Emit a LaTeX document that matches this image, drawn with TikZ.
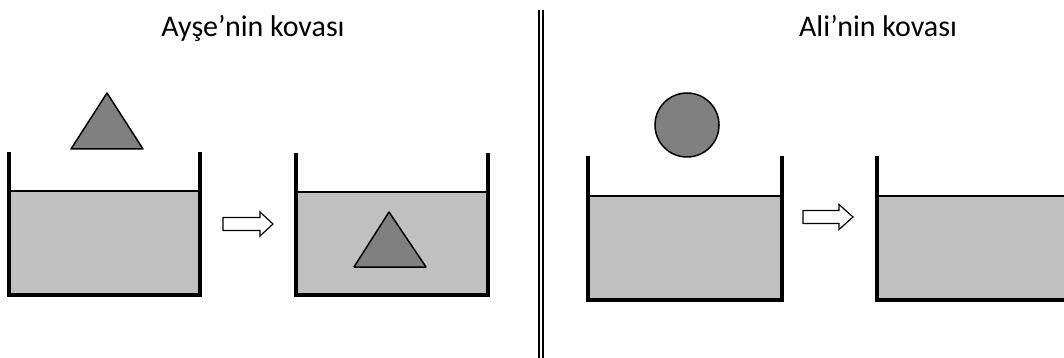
\documentclass[tikz,border=0pt]{standalone}
\usepackage{fontspec}
\setmainfont{Carlito}
\usepackage{xcolor}
\usetikzlibrary{positioning}
\definecolor{suGri}{HTML}{C0C0C0}
\definecolor{cisimGri}{HTML}{808080}

\begin{document}
\begin{tikzpicture}[x=1pt, y=-1pt,
    wall/.style={line width=3.2pt},
    water/.style={fill=suGri, draw=black!75, line width=0.5pt},
    surface/.style={draw=black, line width=1.3pt},
    body/.style={fill=cisimGri, draw=black, line width=1.5pt, line join=round},
    blockarrow/.style={draw=black, line width=1.2pt, fill=white},
    title/.style={font=\fontsize{30}{36}\selectfont, anchor=base}]
            \clip (0,0) rectangle (1064,358);

            % Titles
            \node[title] (ayse) at (253,37) {Ayşe’nin kovası};
            \node[title] (ali) at (878,37) {Ali’nin kovası};

            % Divider
            \draw[line width=2pt] (539.3,10) -- (539.3,358);
            \draw[line width=2pt] (542.7,10) -- (542.7,358);

            % Ayse: bucket before
            \draw[water] (9,191) rectangle (200,295);
            \draw[surface] (9,191) -- (200,191);
            \draw[wall] (9,152) -- (9,295) -- (200,295) -- (200,152);
            \draw[body] (107,93) -- (143,149) -- (71,149) -- cycle;

            \draw[blockarrow] (223,217.5) -- (260,217.5) -- (260,212) -- (273,224)
                -- (260,236) -- (260,230.5) -- (223,230.5) -- cycle;

            % Ayse: bucket after
            \draw[water] (296,192) rectangle (488,295);
            \draw[surface] (296,192) -- (488,192);
            \draw[wall] (296,153) -- (296,295) -- (488,295) -- (488,153);
            \draw[body] (389,212) -- (426,267) -- (354,267) -- cycle;

            % Ali: bucket before
            \draw[water] (588,196) rectangle (782,300);
            \draw[surface] (588,196) -- (782,196);
            \draw[wall] (588,156) -- (588,300) -- (782,300) -- (782,156);
            \draw[body] (687,125) circle (32);

            \draw[blockarrow] (803,210.5) -- (839,210.5) -- (839,204.5) -- (853,217)
                -- (839,229.5) -- (839,223.5) -- (803,223.5) -- cycle;

            % Ali: bucket after
            \draw[water] (877,196) rectangle (1080,300);
            \draw[surface] (877,196) -- (1080,196);
            \draw[wall] (877,156) -- (877,300) -- (1080,300);
\end{tikzpicture}
\end{document}
